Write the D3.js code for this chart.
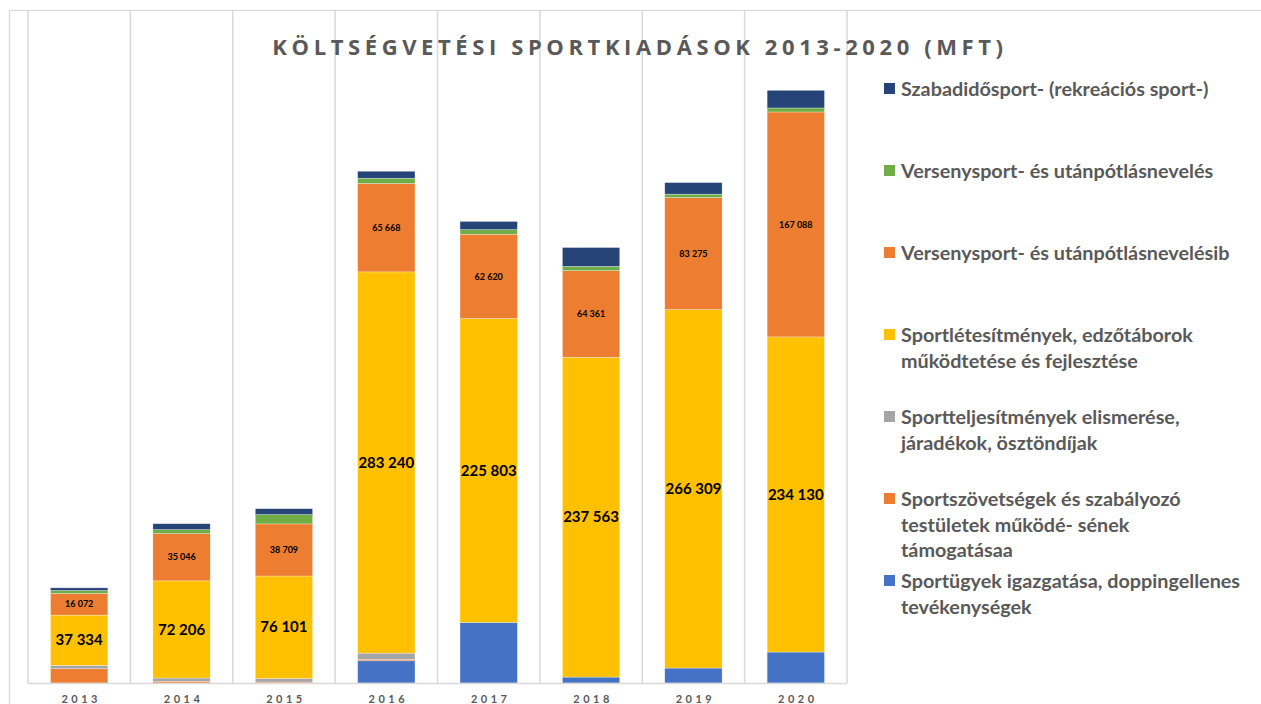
<!DOCTYPE html>
<html>
<head>
<meta charset="utf-8">
<script src="https://cdn.jsdelivr.net/npm/d3@7"></script>
<style>
  html, body { margin: 0; padding: 0; background: #fff; overflow: hidden; }
  svg { display: block; font-family: Lato, "Open Sans", sans-serif; }
</style>
</head>
<body>
<div id="chart"></div>
<script>
// years on the x axis
const years = ['2013', '2014', '2015', '2016', '2017', '2018', '2019', '2020'];

// series, bottom of the stack first (MFt)
const seriesKeys = ['igazgatas', 'szovetseg', 'teljesitmeny', 'letesitmeny', 'versenyB', 'verseny', 'szabadido'];
const seriesNames = [
  ['Sportügyek igazgatása, doppingellenes', 'tevékenységek'],
  ['Sportszövetségek és szabályozó', 'testületek működé- sének', 'támogatásaa'],
  ['Sportteljesítmények elismerése,', 'járadékok, ösztöndíjak'],
  ['Sportlétesítmények, edzőtáborok', 'működtetése és fejlesztése'],
  ['Versenysport- és utánpótlásnevelésib'],
  ['Versenysport- és utánpótlásnevelés'],
  ['Szabadidősport- (rekreációs sport-)']
];
const seriesColors = ['#4472C4', '#ED7D31', '#A5A5A5', '#FFC000', '#ED7D31', '#70AD47', '#264478'];

const igazgatas    = [0, 0, 0, 16500, 45000, 4400, 11100, 23000];
const szovetseg    = [10600, 1200, 700, 1000, 0, 0, 0, 0];
const teljesitmeny = [2500, 2500, 2700, 4700, 0, 0, 0, 0];
const letesitmeny  = [37334, 72206, 76101, 283240, 225803, 237563, 266309, 234130];
const versenyB     = [16072, 35046, 38709, 65668, 62620, 64361, 83275, 167088];
const verseny      = [2200, 3000, 6900, 3900, 3400, 3200, 2500, 3000];
const szabadido    = [2000, 4400, 4400, 5200, 6100, 14000, 8600, 13100];

const title = 'KÖLTSÉGVETÉSI SPORTKIADÁSOK 2013-2020 (MFT)';

const width = 1261, height = 704;
const plot = { left: 28, right: 847, top: 10, bottom: 683 };

const svg = d3.select('#chart').append('svg')
  .attr('width', width)
  .attr('height', height);

// build rows for the stack
const cols = { igazgatas, szovetseg, teljesitmeny, letesitmeny, versenyB, verseny, szabadido };
const rows = years.map((year, i) => {
  const r = { year };
  seriesKeys.forEach(k => { r[k] = cols[k][i]; });
  return r;
});
const stacked = d3.stack().keys(seriesKeys)(rows);

const x = d3.scaleBand()
  .domain(years)
  .range([plot.left, plot.right])
  .paddingInner(0.44)
  .paddingOuter(0.22);

const y = d3.scaleLinear()
  .domain([0, 500000])
  .range([plot.bottom, plot.top]);

// outer chart border
svg.append('rect')
  .attr('x', 9.5).attr('y', 10.5)
  .attr('width', width + 20).attr('height', height + 20)
  .attr('fill', 'none')
  .attr('stroke', '#d9d9d9')
  .attr('stroke-width', 1.2);

// vertical gridlines at the band edges
const step = x.step();
const edges = d3.range(years.length + 1).map(i => plot.left + i * step);
svg.append('g')
  .selectAll('line')
  .data(edges)
  .enter()
  .append('line')
  .attr('x1', d => d).attr('x2', d => d)
  .attr('y1', plot.top).attr('y2', plot.bottom)
  .attr('stroke', '#d9d9d9')
  .attr('stroke-width', 1.5);

// bars
const layer = svg.append('g')
  .selectAll('g')
  .data(stacked)
  .enter()
  .append('g')
  .attr('fill', (d, i) => seriesColors[i]);

layer.selectAll('rect')
  .data(d => d)
  .enter()
  .append('rect')
  .attr('x', d => x(d.data.year))
  .attr('width', x.bandwidth())
  .attr('y', d => y(d[1]))
  .attr('height', d => Math.max(0, y(d[0]) - y(d[1])))
  .attr('stroke', 'rgba(255,255,255,0.5)')
  .attr('stroke-width', 0.6);

// x axis line
svg.append('line')
  .attr('x1', plot.left).attr('x2', plot.right)
  .attr('y1', plot.bottom + 0.5).attr('y2', plot.bottom + 0.5)
  .attr('stroke', '#d9d9d9')
  .attr('stroke-width', 1.5);

// year labels
svg.append('g')
  .selectAll('text')
  .data(years)
  .enter()
  .append('text')
  .attr('x', d => x(d) + x.bandwidth() / 2 + 2)
  .attr('y', 703)
  .attr('text-anchor', 'middle')
  .attr('font-size', 11)
  .attr('font-weight', 'bold')
  .attr('letter-spacing', 3.5)
  .attr('fill', '#595959')
  .text(d => d);

// value labels on the big segments
const fmt = v => d3.format(',')(v).replace(/,/g, ' ');
const labelLayers = [
  { idx: 3, size: 15 },
  { idx: 4, size: 9 }
];
labelLayers.forEach(l => {
  svg.append('g')
    .selectAll('text')
    .data(stacked[l.idx])
    .enter()
    .append('text')
    .attr('x', d => x(d.data.year) + x.bandwidth() / 2)
    .attr('y', d => (y(d[0]) + y(d[1])) / 2)
    .attr('dy', '0.35em')
    .attr('text-anchor', 'middle')
    .attr('font-size', l.size)
    .attr('font-weight', 'bold')
    .attr('fill', '#000')
    .text(d => fmt(d[1] - d[0]));
});

// title
svg.append('text')
  .attr('x', 640)
  .attr('y', 55)
  .attr('text-anchor', 'middle')
  .attr('font-family', '"Open Sans", Lato, sans-serif')
  .attr('font-size', 22)
  .attr('font-weight', 'bold')
  .attr('letter-spacing', 4.6)
  .attr('fill', '#595959')
  .text(title);

// legend, top entry is the last series
const legend = svg.append('g');
const order = d3.range(seriesKeys.length).reverse();
order.forEach((s, row) => {
  const cy = 89 + row * 82;
  const g = legend.append('g');
  g.append('rect')
    .attr('x', 884).attr('y', cy - 6)
    .attr('width', 11).attr('height', 11)
    .attr('fill', seriesColors[s]);
  g.append('text')
    .attr('x', 901)
    .attr('y', cy)
    .attr('font-size', 19.8)
    .attr('font-weight', 'bold')
    .attr('fill', '#595959')
    .selectAll('tspan')
    .data(seriesNames[s])
    .enter()
    .append('tspan')
    .attr('x', 901)
    .attr('y', (d, i) => cy + i * 25.5)
    .attr('dy', '0.36em')
    .text(d => d);
});
</script>
</body>
</html>
